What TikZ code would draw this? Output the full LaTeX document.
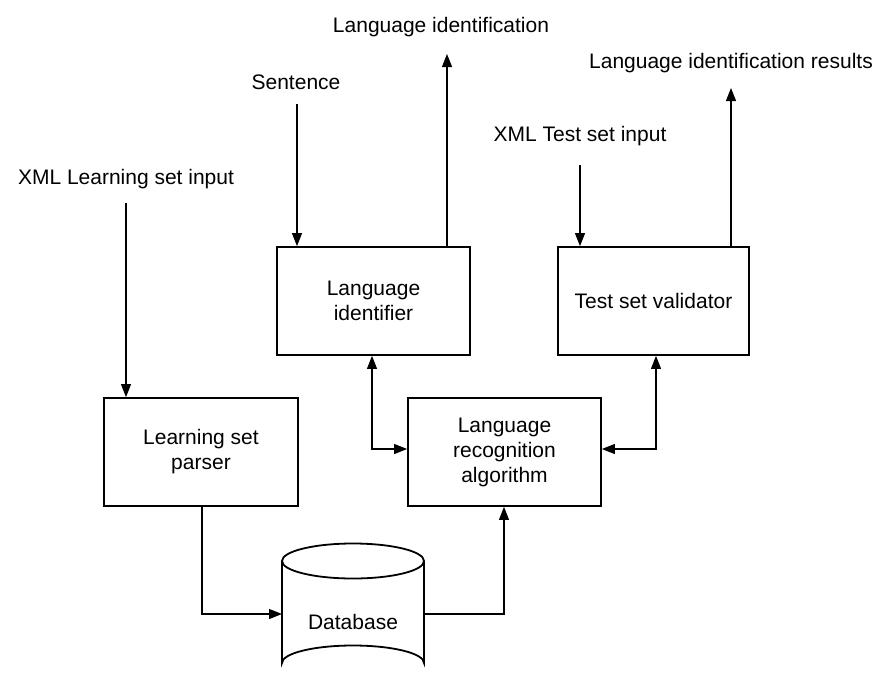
\documentclass[tikz,border=0pt]{standalone}
\usepackage{fontspec}
\setmainfont{Liberation Sans}
\usetikzlibrary{arrows.meta}
\begin{document}
\begin{tikzpicture}[x=1pt,y=-1pt,
  every node/.style={font=\fontsize{21}{25}\selectfont},
  blk/.style={draw,line width=1.8pt,minimum width=193pt,minimum height=108pt,align=center,inner sep=0pt},
  lbl/.style={inner sep=0pt,anchor=center},
  conn/.style={line width=1.1pt,-{Triangle[length=13pt,width=10pt]}},
  conn2/.style={line width=1.1pt,{Triangle[length=13pt,width=10pt]}-{Triangle[length=13pt,width=10pt]}},
  plain/.style={line width=1.1pt}]
\useasboundingbox (0,0) rectangle (876,681);
% boxes
\node[blk] (li) at (373.5,301) {Language\\identifier};
\node[blk,minimum width=191pt] (tsv) at (653.5,301) {Test set validator};
\node[blk] (lra) at (504.5,452) {Language\\recognition\\algorithm};
\node[blk,minimum width=194pt] (lsp) at (201,452) {Learning set\\parser};
% database
\draw[line width=1.8pt] (282,561) -- (282,663) arc[start angle=180,end angle=360,x radius=71,y radius=17.5] -- (424,561);
\draw[line width=1.8pt] (353,561) ellipse[x radius=71,y radius=17.5];
\node[lbl] (db) at (353,622) {Database};
\coordinate (dbw) at (282,614);
\coordinate (dbe) at (424,614);
% labels
\node[lbl] (tli) at (441,27) {Language identification};
\node[lbl] (tsen) at (296,82) {Sentence};
\node[lbl] (tres) at (731,63) {Language identification results};
\node[lbl] (ttest) at (580,136) {XML Test set input};
\node[lbl] (tlearn) at (126,179) {XML Learning set input};
% free ends
\coordinate (senTop) at (297,104);
\coordinate (liOut) at (447,54);
\coordinate (resOut) at (731,88);
\coordinate (testTop) at (580,165);
\coordinate (learnTop) at (126,203);
% connectors
\draw[conn] (senTop) -- (senTop |- li.north);
\draw[conn] (li.north -| liOut) -- (liOut);
\draw[conn] (testTop) -- (testTop |- tsv.north);
\draw[conn] (tsv.north -| resOut) -- (resOut);
\draw[conn] (learnTop) -- (learnTop |- lsp.north);
\coordinate (c1) at (372,449);
\coordinate (c2) at (656,449);
\draw[conn2] (li.south -| c1) |- (lra.west |- c1);
\draw[conn2] (tsv.south -| c2) |- (lra.east |- c2);
\draw[conn] (lsp.south -| 202,0) |- (dbw);
\draw[conn] (dbe) -| (lra.south -| 504,0);
\end{tikzpicture}
\end{document}
